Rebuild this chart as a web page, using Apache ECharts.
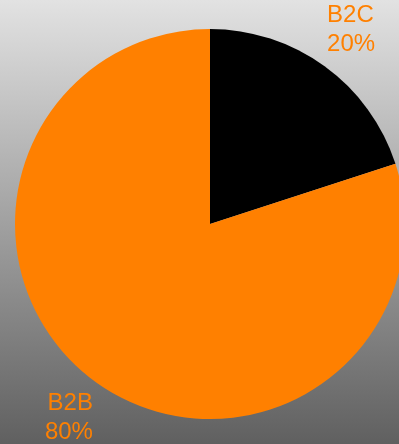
<!DOCTYPE html>
<html>
<head>
<meta charset="utf-8">
<script src="https://cdn.jsdelivr.net/npm/echarts@6/dist/echarts.min.js"></script>
<style>
  html, body { margin: 0; padding: 0; }
  #chart { width: 399px; height: 444px; }
</style>
</head>
<body>
<div id="chart"></div>
<script>
// 数据
const categories = ['B2C', 'B2B'];
const shares = [20, 80];
const sliceColors = ['#000000', '#ff8000'];

const chart = echarts.init(document.getElementById('chart'));

const option = {
  animation: false,
  backgroundColor: new echarts.graphic.LinearGradient(0, 0, 0, 1, [
    { offset: 0, color: '#e2e2e2' },
    { offset: 1, color: '#606060' }
  ]),
  series: [
    {
      type: 'pie',
      center: [210, 224],
      radius: 195,
      startAngle: 90,
      clockwise: true,
      avoidLabelOverlap: false,
      silent: true,
      itemStyle: { borderWidth: 0 },
      label: {
        show: true,
        position: 'outside',
        formatter: '{b}\n{d}%',
        color: '#ff8000',
        fontFamily: 'Liberation Sans, Arial, sans-serif',
        fontSize: 24,
        lineHeight: 29,
        padding: [10, 0, 0, 0],
        distanceToLabelLine: -24
      },
      labelLine: { show: false, length: 45, length2: 0 },
      data: categories.map((name, i) => ({
        name: name,
        value: shares[i],
        itemStyle: { color: sliceColors[i] }
      }))
    }
  ]
};

chart.setOption(option);
</script>
</body>
</html>
